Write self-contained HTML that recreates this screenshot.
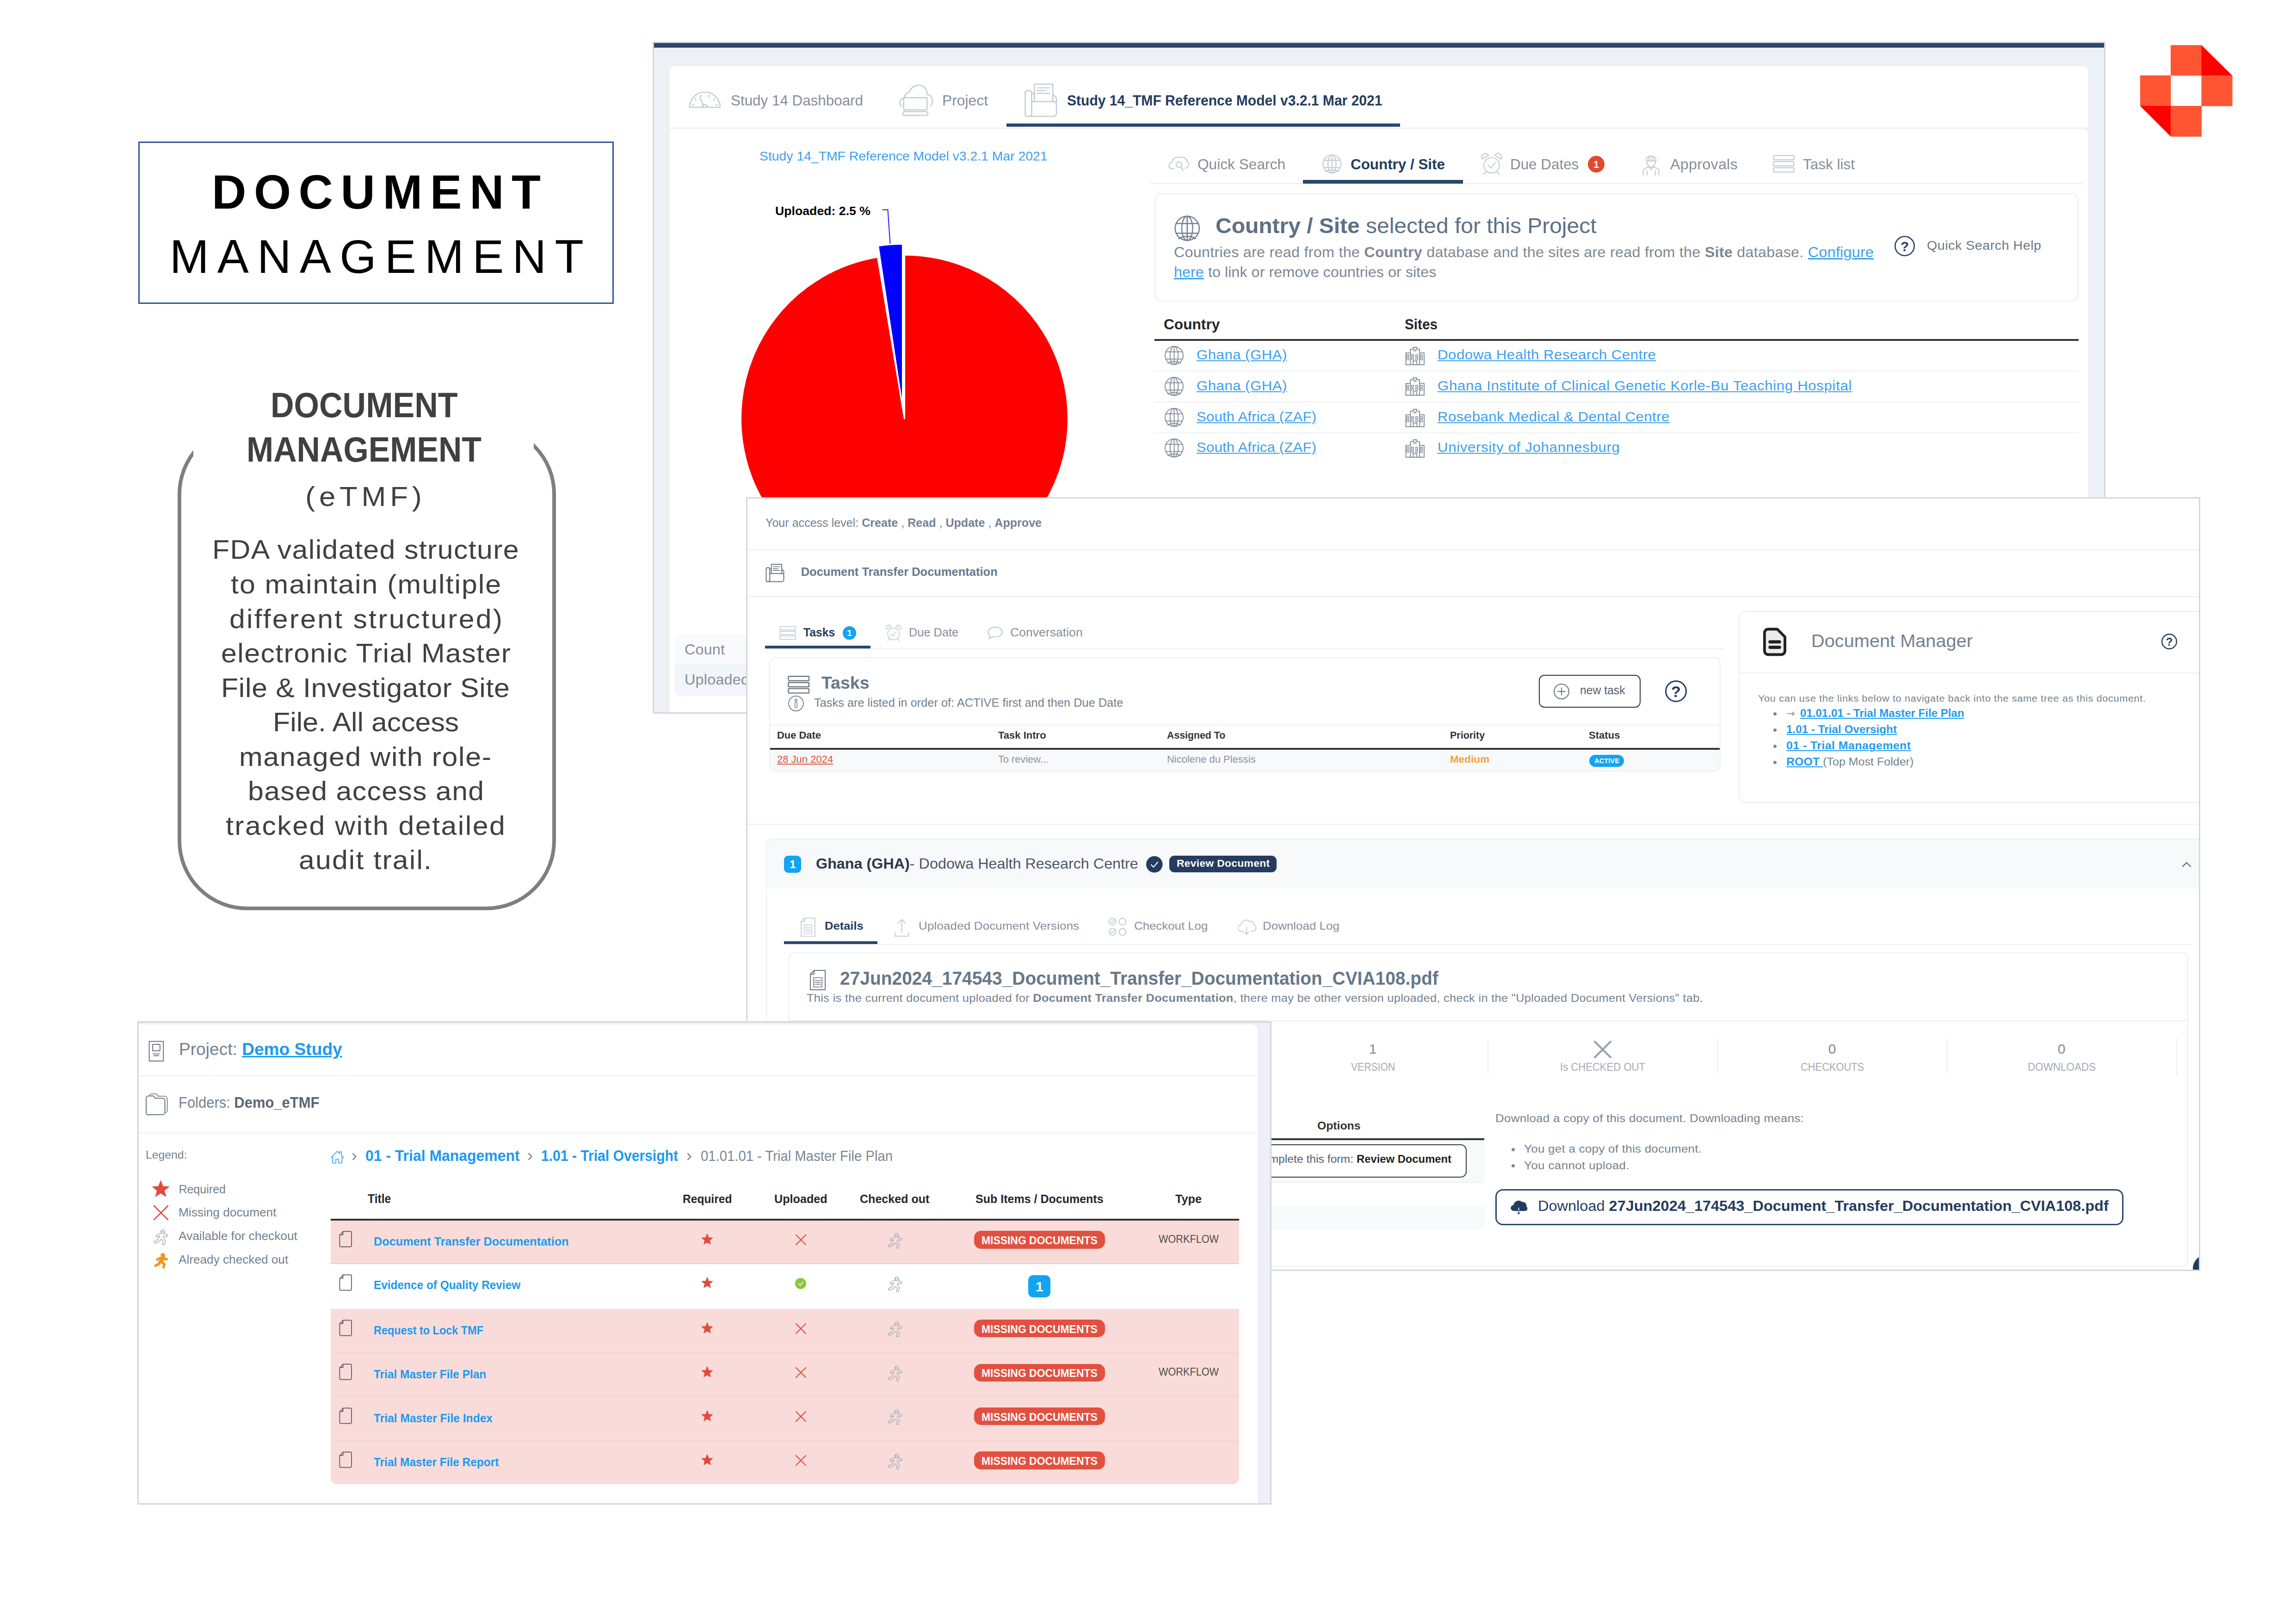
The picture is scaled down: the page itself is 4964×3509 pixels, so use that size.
<!DOCTYPE html>
<html lang="en"><head><meta charset="utf-8"><title>Document Management</title>
<style>
html,body{margin:0;padding:0;background:#fff;}
body{width:4964px;height:3509px;position:relative;overflow:hidden;font-family:"Liberation Sans",Arial,sans-serif;}
.b{position:absolute;box-sizing:border-box;}
.t{position:absolute;white-space:nowrap;transform-origin:0 0;}
svg{overflow:visible;}
</style></head><body>
<div class="b" style="left:299.0px;top:306.0px;width:1028.0px;height:351.0px;border:3px solid #2f5597;"></div>
<div class="t" style="left:458.0px;top:363.8px;font-size:103.00px;line-height:103.00px;color:#000;font-weight:700;letter-spacing:16.561px;">DOCUMENT</div>
<div class="t" style="left:366.7px;top:504.1px;font-size:102.00px;line-height:102.00px;color:#000;letter-spacing:18.218px;">MANAGEMENT</div>
<div class="b" style="left:384.0px;top:918.0px;width:818.0px;height:1050.0px;border:8px solid #7f7f7f;border-radius:150px;"></div>
<div class="b" style="left:417.5px;top:830.0px;width:736.0px;height:280.0px;background:#fff;"></div>
<div class="t" style="left:585.0px;top:838.5px;font-size:75.50px;line-height:75.50px;color:#404040;font-weight:700;transform:scaleX(0.9273);">DOCUMENT</div>
<div class="t" style="left:532.8px;top:934.7px;font-size:75.50px;line-height:75.50px;color:#404040;font-weight:700;transform:scaleX(0.9246);">MANAGEMENT</div>
<div class="t" style="left:660.0px;top:1043.6px;font-size:60.00px;line-height:60.00px;color:#404040;letter-spacing:8.224px;transform:scaleX(1.0600);">(eTMF)</div>
<div class="t" style="left:458.8px;top:1160.4px;font-size:57.40px;line-height:57.40px;color:#404040;letter-spacing:1.304px;transform:scaleX(1.0600);">FDA validated structure</div>
<div class="t" style="left:498.8px;top:1235.0px;font-size:57.40px;line-height:57.40px;color:#404040;letter-spacing:1.875px;transform:scaleX(1.0600);">to maintain (multiple</div>
<div class="t" style="left:495.8px;top:1309.5px;font-size:57.40px;line-height:57.40px;color:#404040;letter-spacing:3.007px;transform:scaleX(1.0600);">different structured)</div>
<div class="t" style="left:478.0px;top:1384.1px;font-size:57.40px;line-height:57.40px;color:#404040;letter-spacing:1.325px;transform:scaleX(1.0600);">electronic Trial Master</div>
<div class="t" style="left:478.0px;top:1458.6px;font-size:57.40px;line-height:57.40px;color:#404040;letter-spacing:0.627px;transform:scaleX(1.0600);">File &amp; Investigator Site</div>
<div class="t" style="left:589.7px;top:1533.2px;font-size:57.40px;line-height:57.40px;color:#404040;transform:scaleX(1.0598);">File. All access</div>
<div class="t" style="left:516.5px;top:1607.7px;font-size:57.40px;line-height:57.40px;color:#404040;letter-spacing:1.529px;transform:scaleX(1.0600);">managed with role-</div>
<div class="t" style="left:535.8px;top:1682.3px;font-size:57.40px;line-height:57.40px;color:#404040;letter-spacing:1.241px;transform:scaleX(1.0600);">based access and</div>
<div class="t" style="left:488.0px;top:1756.8px;font-size:57.40px;line-height:57.40px;color:#404040;letter-spacing:2.327px;transform:scaleX(1.0600);">tracked with detailed</div>
<div class="t" style="left:646.0px;top:1831.4px;font-size:57.40px;line-height:57.40px;color:#404040;letter-spacing:1.991px;transform:scaleX(1.0600);">audit trail.</div>
<svg class="b" style="left:0.0px;top:0.0px;" width="4964.0" height="400.0" viewBox="0 0 4964 400"><rect x="4693" y="97.5" width="67" height="66" fill="#ff5533"/><rect x="4627" y="163" width="66.5" height="66.5" fill="#ff5533"/><rect x="4759.5" y="163" width="67" height="66.5" fill="#ff5533"/><rect x="4693" y="229" width="67" height="66.5" fill="#ff5533"/><polygon points="4759.5,97.5 4826,163 4759.5,163" fill="#ff0000"/><polygon points="4627,229 4693,229 4693,295" fill="#ff0000"/></svg>
<div class="b" style="left:1411px;top:90px;width:3141px;height:1453px;overflow:hidden;"><div class="b" style="left:-1411px;top:-90px;width:4964px;height:3509px;">
<div class="b" style="left:1411.0px;top:90.0px;width:3141.0px;height:1453.0px;background:#edf0f5;border:3px solid #d4d6da;"></div>
<div class="b" style="left:1414.0px;top:93.0px;width:3135.0px;height:10.0px;background:#28476a;"></div>
<div class="b" style="left:1448.0px;top:143.0px;width:3066.0px;height:133.0px;background:#fff;border-radius:12px 12px 0 0;"></div>
<div class="b" style="left:1448.0px;top:278.0px;width:3066.0px;height:1262.0px;background:#fff;border-radius:0 12px 0 0;"></div>
<div class="b" style="left:1448.0px;top:275.5px;width:3066.0px;height:2.0px;background:#e8ebf0;"></div>
<svg class="b" style="left:1489.0px;top:197.0px;" width="70.0" height="38.0" viewBox="0 0 70 38"><path d="M2 35 A33 33 0 0 1 68 35 Z" fill="none" stroke="#c5cbd4" stroke-width="2.6" stroke-linecap="round" stroke-linejoin="round"/><path d="M8 30h3M14 17l2 2M26 9l1 3M44 9l-1 3M56 17l-2 2M62 30h-3M24 14l8 17" fill="none" stroke="#c5cbd4" stroke-width="2.6" stroke-linecap="round" stroke-linejoin="round"/><path d="M29 35a6 6 0 0 1 12 0" fill="none" stroke="#c5cbd4" stroke-width="2.6" stroke-linecap="round" stroke-linejoin="round"/></svg>
<div class="t" style="left:1580.0px;top:201.8px;font-size:30.50px;line-height:30.50px;color:#868e99;transform:scaleX(1.0285);">Study 14 Dashboard</div>
<svg class="b" style="left:1944.0px;top:181.0px;" width="75.0" height="70.0" viewBox="0 0 76 72"><path d="M5 50c-6-4-6-17 6-19c0-6 5-12 11-12c3-12 20-22 33-11c6 5 7 11 7 16c10 1 15 14 8 25" fill="none" stroke="#c5cbd4" stroke-width="2.6" stroke-linecap="round" stroke-linejoin="round"/><rect x="9.5" y="31" width="52" height="27" rx="2" fill="none" stroke="#c5cbd4" stroke-width="2.6" stroke-linecap="round" stroke-linejoin="round"/><rect x="8" y="62" width="55" height="8.5" rx="3" fill="none" stroke="#c5cbd4" stroke-width="2.6" stroke-linecap="round" stroke-linejoin="round"/></svg>
<div class="t" style="left:2037.0px;top:202.2px;font-size:30.50px;line-height:30.50px;color:#868e99;transform:scaleX(1.0429);">Project</div>
<svg class="b" style="left:2213.5px;top:179.5px;" width="74.5" height="73.5" viewBox="0 0 74 74"><rect x="2" y="16" width="14" height="56" rx="5" fill="none" stroke="#c5cbd4" stroke-width="2.6" stroke-linecap="round" stroke-linejoin="round"/><path d="M16 40h48a6 6 0 0 1 6 6v20a6 6 0 0 1-6 6h-54" fill="none" stroke="#c5cbd4" stroke-width="2.6" stroke-linecap="round" stroke-linejoin="round"/><path d="M22 40v-38h40v38M16 22h6M62 24l8 8v10" fill="none" stroke="#c5cbd4" stroke-width="2.6" stroke-linecap="round" stroke-linejoin="round"/><path d="M28 10h28M28 16h20M28 22h28" fill="none" stroke="#c5cbd4" stroke-width="2.08" stroke-linecap="round" stroke-linejoin="round"/></svg>
<div class="t" style="left:2306.5px;top:202.2px;font-size:30.50px;line-height:30.50px;color:#243c5e;font-weight:700;transform:scaleX(0.9854);">Study 14_TMF Reference Model v3.2.1 Mar 2021</div>
<div class="b" style="left:2175.5px;top:267.0px;width:851.5px;height:7.0px;background:#28476a;"></div>
<div class="t" style="left:1641.6px;top:324.2px;font-size:27.50px;line-height:27.50px;color:#3d9fee;transform:scaleX(1.0310);">Study 14_TMF Reference Model v3.2.1 Mar 2021</div>
<svg class="b" style="left:0.0px;top:0.0px;" width="4964.0" height="1600.0" viewBox="0 0 4964 1600"><path d="M1955.5 905.0 L1955.5 551.0 A354 354 0 1 1 1897.4 555.8 Z" fill="#fe0000" stroke="#fff" stroke-width="3" stroke-linejoin="round"/><path d="M1951.5 881.5 L1898.6 531.5 A354 354 0 0 1 1951.5 527.5 Z" fill="#0000fe" stroke="#fff" stroke-width="3" stroke-linejoin="round"/><path d="M1907.5 453.5H1919.5L1924.5 527" fill="none" stroke="#1a1aff" stroke-width="2"/></svg>
<div class="t" style="left:1675.5px;top:443.1px;font-size:26.50px;line-height:26.50px;color:#000;font-weight:700;transform:scaleX(1.0065);">Uploaded: 2.5 %</div>
<div class="b" style="left:1458.0px;top:1372.0px;width:642.0px;height:132.0px;background:#f2f5fa;border-radius:14px;overflow:hidden;"><div class="b" style="left:0;top:0;width:700px;height:64px;background:#f9fafc;"></div></div>
<div class="t" style="left:1480.0px;top:1389.2px;font-size:30.50px;line-height:30.50px;color:#868e99;letter-spacing:0.172px;transform:scaleX(1.0600);">Count</div>
<div class="t" style="left:1480.0px;top:1453.6px;font-size:30.50px;line-height:30.50px;color:#868e99;letter-spacing:0.214px;transform:scaleX(1.0600);">Uploaded</div>
<div class="b" style="left:2486.0px;top:395.5px;width:2017.0px;height:2.0px;background:#e8ebf0;"></div>
<svg class="b" style="left:2524.5px;top:335.0px;" width="46.0" height="38.0" viewBox="0 0 46 38"><path d="M14 30h-4c-9 0-11-12-1-14c1-9 10-14 18-10c5-3 14 0 14 8c6 2 5 14-3 15" fill="none" stroke="#c5cbd4" stroke-width="2.2" stroke-linecap="round" stroke-linejoin="round"/><circle cx="24" cy="21" r="6" fill="none" stroke="#c5cbd4" stroke-width="2.2" stroke-linecap="round" stroke-linejoin="round"/><path d="M28 26l5 8" fill="none" stroke="#c5cbd4" stroke-width="2.2" stroke-linecap="round" stroke-linejoin="round"/></svg>
<div class="t" style="left:2589.0px;top:340.2px;font-size:30.50px;line-height:30.50px;color:#868e99;transform:scaleX(1.0378);">Quick Search</div>
<svg class="b" style="left:2857.5px;top:333.0px;" width="43.5" height="43.0" viewBox="0 0 44 44"><circle cx="22" cy="22" r="20" fill="none" stroke="#c5cbd4" stroke-width="2.2" stroke-linecap="round" stroke-linejoin="round"/><ellipse cx="22" cy="22" rx="9" ry="20" fill="none" stroke="#c5cbd4" stroke-width="2.2" stroke-linecap="round" stroke-linejoin="round"/><path d="M22 2v40M4 14h36M4 30h36M8 39c8-5 20-5 28 0" fill="none" stroke="#c5cbd4" stroke-width="2.2" stroke-linecap="round" stroke-linejoin="round"/></svg>
<div class="t" style="left:2920.0px;top:339.9px;font-size:30.50px;line-height:30.50px;color:#243c5e;font-weight:700;transform:scaleX(1.0289);">Country / Site</div>
<div class="b" style="left:2817.0px;top:389.0px;width:345.5px;height:8.0px;background:#28476a;"></div>
<svg class="b" style="left:3201.0px;top:330.0px;" width="48.0" height="49.0" viewBox="0 0 48 50"><circle cx="24" cy="28" r="17" fill="none" stroke="#c5cbd4" stroke-width="2.2" stroke-linecap="round" stroke-linejoin="round"/><path d="M16 28l6 6l10-12M12 42l-5 6M36 42l5 6" fill="none" stroke="#c5cbd4" stroke-width="2.2" stroke-linecap="round" stroke-linejoin="round"/><path d="M3 14a8 8 0 0 1 14-8zM45 14a8 8 0 0 0-14-8z" fill="none" stroke="#c5cbd4" stroke-width="2.2" stroke-linecap="round" stroke-linejoin="round"/></svg>
<div class="t" style="left:3265.0px;top:339.9px;font-size:30.50px;line-height:30.50px;color:#868e99;transform:scaleX(1.0291);">Due Dates</div>
<svg class="b" style="left:3433.0px;top:337.0px;" width="36.0" height="36.0" viewBox="0 0 36 36"><circle cx="18" cy="18" r="18" fill="#e2492f"/><text x="18" y="25.81" text-anchor="middle" font-family="Liberation Sans,Arial,sans-serif" font-weight="700" font-size="22" fill="#fff">1</text></svg>
<svg class="b" style="left:3549.0px;top:331.5px;" width="41.5" height="47.5" viewBox="0 0 42 48"><path d="M10 16a11 11 0 0 1 22 0zM21 5v11M16 6v10M26 6v10" fill="none" stroke="#c5cbd4" stroke-width="2.2" stroke-linecap="round" stroke-linejoin="round"/><path d="M12 17c0 8 4 13 9 13s9-5 9-13M15 29l-11 6v12M27 29l11 6v12M12 37v10M30 37v10M17 30l4 5l4-5" fill="none" stroke="#c5cbd4" stroke-width="2.2" stroke-linecap="round" stroke-linejoin="round"/></svg>
<div class="t" style="left:3611.0px;top:339.9px;font-size:30.50px;line-height:30.50px;color:#868e99;letter-spacing:0.228px;transform:scaleX(1.0600);">Approvals</div>
<svg class="b" style="left:3833.0px;top:334.0px;" width="47.0" height="40.5" viewBox="0 0 48 40"><rect x="1.5" y="1.5" width="45" height="9.5" rx="1" fill="none" stroke="#c5cbd4" stroke-width="2.2" stroke-linecap="round" stroke-linejoin="round"/><rect x="1.5" y="15" width="45" height="9.5" rx="1" fill="none" stroke="#c5cbd4" stroke-width="2.2" stroke-linecap="round" stroke-linejoin="round"/><rect x="1.5" y="28.5" width="45" height="9.5" rx="1" fill="none" stroke="#c5cbd4" stroke-width="2.2" stroke-linecap="round" stroke-linejoin="round"/></svg>
<div class="t" style="left:3898.0px;top:339.9px;font-size:30.50px;line-height:30.50px;color:#868e99;transform:scaleX(1.0326);">Task list</div>
<div class="b" style="left:2496.0px;top:418.0px;width:1998.0px;height:234.0px;background:#fff;border:2px solid #eceef2;border-radius:16px;"></div>
<svg class="b" style="left:2537.5px;top:464.5px;" width="57.5" height="57.5" viewBox="0 0 44 44"><circle cx="22" cy="22" r="20" fill="none" stroke="#6f7f8f" stroke-width="1.9" stroke-linecap="round" stroke-linejoin="round"/><ellipse cx="22" cy="22" rx="9" ry="20" fill="none" stroke="#6f7f8f" stroke-width="1.9" stroke-linecap="round" stroke-linejoin="round"/><path d="M22 2v40M4 14h36M4 30h36M8 39c8-5 20-5 28 0" fill="none" stroke="#6f7f8f" stroke-width="1.9" stroke-linecap="round" stroke-linejoin="round"/></svg>
<div class="t" style="left:2627.5px;top:465.4px;font-size:46.50px;line-height:46.50px;color:#5d7083;transform:scaleX(1.0313);"><span style="font-weight:700">Country / Site</span> selected for this Project</div>
<div class="t" style="left:2537.5px;top:529.9px;font-size:30.50px;line-height:30.50px;color:#7b8794;letter-spacing:0.236px;transform:scaleX(1.0600);">Countries are read from the <span style="font-weight:700">Country</span> database and the sites are read from the <span style="font-weight:700">Site</span> database. <span style="color:#3d9fee;text-decoration:underline">Configure</span></div>
<div class="t" style="left:2537.5px;top:572.8px;font-size:30.50px;line-height:30.50px;color:#7b8794;letter-spacing:0.035px;transform:scaleX(1.0600);"><span style="color:#3d9fee;text-decoration:underline">here</span> to link or remove countries or sites</div>
<svg class="b" style="left:4094.0px;top:508.0px;" width="48.0" height="48.0" viewBox="0 0 48 48"><circle cx="24" cy="24" r="20.7" fill="none" stroke="#243c5e" stroke-width="2.6" stroke-linecap="round" stroke-linejoin="round"/><text x="24" y="34.692" text-anchor="middle" font-family="Liberation Sans,Arial,sans-serif" font-weight="700" font-size="29.7" fill="#243c5e">?</text></svg>
<div class="t" style="left:4166.0px;top:518.1px;font-size:27.00px;line-height:27.00px;color:#6c7785;letter-spacing:0.495px;transform:scaleX(1.0600);">Quick Search Help</div>
<div class="t" style="left:2515.5px;top:686.2px;font-size:30.50px;line-height:30.50px;color:#262626;font-weight:700;transform:scaleX(1.0376);">Country</div>
<div class="t" style="left:3037.0px;top:686.2px;font-size:30.50px;line-height:30.50px;color:#262626;font-weight:700;transform:scaleX(0.9739);">Sites</div>
<div class="b" style="left:2496.0px;top:733.0px;width:1998.0px;height:4.0px;background:#333;"></div>
<svg class="b" style="left:2516.5px;top:747.3px;" width="43.0" height="43.0" viewBox="0 0 44 44"><circle cx="22" cy="22" r="20" fill="none" stroke="#7d8793" stroke-width="1.8" stroke-linecap="round" stroke-linejoin="round"/><ellipse cx="22" cy="22" rx="9" ry="20" fill="none" stroke="#7d8793" stroke-width="1.8" stroke-linecap="round" stroke-linejoin="round"/><path d="M22 2v40M4 14h36M4 30h36M8 39c8-5 20-5 28 0" fill="none" stroke="#7d8793" stroke-width="1.8" stroke-linecap="round" stroke-linejoin="round"/></svg>
<div class="t" style="left:2586.6px;top:752.3px;font-size:29.50px;line-height:29.50px;color:#3d9fee;text-decoration:underline;letter-spacing:0.400px;transform:scaleX(1.0600);">Ghana (GHA)</div>
<svg class="b" style="left:3036.5px;top:749.8px;" width="44.5" height="39.5" viewBox="0 0 44 40"><path d="M2 39v-26h10v-8h6v-4h8v4h6v8h10v26z M12 13v26 M32 13v26 M18 39v-8h8v8" fill="none" stroke="#7d8793" stroke-width="1.8" stroke-linecap="round" stroke-linejoin="round"/><rect x="4" y="17" width="4.5" height="4.5" fill="none" stroke="#7d8793" stroke-width="1.44" stroke-linecap="round" stroke-linejoin="round"/><rect x="4" y="24" width="4.5" height="4.5" fill="none" stroke="#7d8793" stroke-width="1.44" stroke-linecap="round" stroke-linejoin="round"/><rect x="14.5" y="17" width="4.5" height="4.5" fill="none" stroke="#7d8793" stroke-width="1.44" stroke-linecap="round" stroke-linejoin="round"/><rect x="14.5" y="24" width="4.5" height="4.5" fill="none" stroke="#7d8793" stroke-width="1.44" stroke-linecap="round" stroke-linejoin="round"/><rect x="23.5" y="17" width="4.5" height="4.5" fill="none" stroke="#7d8793" stroke-width="1.44" stroke-linecap="round" stroke-linejoin="round"/><rect x="23.5" y="24" width="4.5" height="4.5" fill="none" stroke="#7d8793" stroke-width="1.44" stroke-linecap="round" stroke-linejoin="round"/><rect x="34" y="17" width="4.5" height="4.5" fill="none" stroke="#7d8793" stroke-width="1.44" stroke-linecap="round" stroke-linejoin="round"/><rect x="34" y="24" width="4.5" height="4.5" fill="none" stroke="#7d8793" stroke-width="1.44" stroke-linecap="round" stroke-linejoin="round"/><path d="M20 5v5M24 5v5M20 7.5h4" fill="none" stroke="#7d8793" stroke-width="1.44" stroke-linecap="round" stroke-linejoin="round"/></svg>
<div class="t" style="left:3107.6px;top:752.3px;font-size:29.50px;line-height:29.50px;color:#3d9fee;text-decoration:underline;letter-spacing:0.442px;transform:scaleX(1.0600);">Dodowa Health Research Centre</div>
<div class="b" style="left:2496.0px;top:801.4px;width:1998.0px;height:2.0px;background:#eef0f3;"></div>
<svg class="b" style="left:2516.5px;top:813.5px;" width="43.0" height="43.0" viewBox="0 0 44 44"><circle cx="22" cy="22" r="20" fill="none" stroke="#7d8793" stroke-width="1.8" stroke-linecap="round" stroke-linejoin="round"/><ellipse cx="22" cy="22" rx="9" ry="20" fill="none" stroke="#7d8793" stroke-width="1.8" stroke-linecap="round" stroke-linejoin="round"/><path d="M22 2v40M4 14h36M4 30h36M8 39c8-5 20-5 28 0" fill="none" stroke="#7d8793" stroke-width="1.8" stroke-linecap="round" stroke-linejoin="round"/></svg>
<div class="t" style="left:2586.6px;top:818.5px;font-size:29.50px;line-height:29.50px;color:#3d9fee;text-decoration:underline;letter-spacing:0.400px;transform:scaleX(1.0600);">Ghana (GHA)</div>
<svg class="b" style="left:3036.5px;top:816.0px;" width="44.5" height="39.5" viewBox="0 0 44 40"><path d="M2 39v-26h10v-8h6v-4h8v4h6v8h10v26z M12 13v26 M32 13v26 M18 39v-8h8v8" fill="none" stroke="#7d8793" stroke-width="1.8" stroke-linecap="round" stroke-linejoin="round"/><rect x="4" y="17" width="4.5" height="4.5" fill="none" stroke="#7d8793" stroke-width="1.44" stroke-linecap="round" stroke-linejoin="round"/><rect x="4" y="24" width="4.5" height="4.5" fill="none" stroke="#7d8793" stroke-width="1.44" stroke-linecap="round" stroke-linejoin="round"/><rect x="14.5" y="17" width="4.5" height="4.5" fill="none" stroke="#7d8793" stroke-width="1.44" stroke-linecap="round" stroke-linejoin="round"/><rect x="14.5" y="24" width="4.5" height="4.5" fill="none" stroke="#7d8793" stroke-width="1.44" stroke-linecap="round" stroke-linejoin="round"/><rect x="23.5" y="17" width="4.5" height="4.5" fill="none" stroke="#7d8793" stroke-width="1.44" stroke-linecap="round" stroke-linejoin="round"/><rect x="23.5" y="24" width="4.5" height="4.5" fill="none" stroke="#7d8793" stroke-width="1.44" stroke-linecap="round" stroke-linejoin="round"/><rect x="34" y="17" width="4.5" height="4.5" fill="none" stroke="#7d8793" stroke-width="1.44" stroke-linecap="round" stroke-linejoin="round"/><rect x="34" y="24" width="4.5" height="4.5" fill="none" stroke="#7d8793" stroke-width="1.44" stroke-linecap="round" stroke-linejoin="round"/><path d="M20 5v5M24 5v5M20 7.5h4" fill="none" stroke="#7d8793" stroke-width="1.44" stroke-linecap="round" stroke-linejoin="round"/></svg>
<div class="t" style="left:3107.6px;top:818.5px;font-size:29.50px;line-height:29.50px;color:#3d9fee;text-decoration:underline;letter-spacing:0.577px;transform:scaleX(1.0600);">Ghana Institute of Clinical Genetic Korle-Bu Teaching Hospital</div>
<div class="b" style="left:2496.0px;top:868.2px;width:1998.0px;height:2.0px;background:#eef0f3;"></div>
<svg class="b" style="left:2516.5px;top:881.0px;" width="43.0" height="43.0" viewBox="0 0 44 44"><circle cx="22" cy="22" r="20" fill="none" stroke="#7d8793" stroke-width="1.8" stroke-linecap="round" stroke-linejoin="round"/><ellipse cx="22" cy="22" rx="9" ry="20" fill="none" stroke="#7d8793" stroke-width="1.8" stroke-linecap="round" stroke-linejoin="round"/><path d="M22 2v40M4 14h36M4 30h36M8 39c8-5 20-5 28 0" fill="none" stroke="#7d8793" stroke-width="1.8" stroke-linecap="round" stroke-linejoin="round"/></svg>
<div class="t" style="left:2586.6px;top:886.0px;font-size:29.50px;line-height:29.50px;color:#3d9fee;text-decoration:underline;letter-spacing:0.112px;transform:scaleX(1.0600);">South Africa (ZAF)</div>
<svg class="b" style="left:3036.5px;top:883.5px;" width="44.5" height="39.5" viewBox="0 0 44 40"><path d="M2 39v-26h10v-8h6v-4h8v4h6v8h10v26z M12 13v26 M32 13v26 M18 39v-8h8v8" fill="none" stroke="#7d8793" stroke-width="1.8" stroke-linecap="round" stroke-linejoin="round"/><rect x="4" y="17" width="4.5" height="4.5" fill="none" stroke="#7d8793" stroke-width="1.44" stroke-linecap="round" stroke-linejoin="round"/><rect x="4" y="24" width="4.5" height="4.5" fill="none" stroke="#7d8793" stroke-width="1.44" stroke-linecap="round" stroke-linejoin="round"/><rect x="14.5" y="17" width="4.5" height="4.5" fill="none" stroke="#7d8793" stroke-width="1.44" stroke-linecap="round" stroke-linejoin="round"/><rect x="14.5" y="24" width="4.5" height="4.5" fill="none" stroke="#7d8793" stroke-width="1.44" stroke-linecap="round" stroke-linejoin="round"/><rect x="23.5" y="17" width="4.5" height="4.5" fill="none" stroke="#7d8793" stroke-width="1.44" stroke-linecap="round" stroke-linejoin="round"/><rect x="23.5" y="24" width="4.5" height="4.5" fill="none" stroke="#7d8793" stroke-width="1.44" stroke-linecap="round" stroke-linejoin="round"/><rect x="34" y="17" width="4.5" height="4.5" fill="none" stroke="#7d8793" stroke-width="1.44" stroke-linecap="round" stroke-linejoin="round"/><rect x="34" y="24" width="4.5" height="4.5" fill="none" stroke="#7d8793" stroke-width="1.44" stroke-linecap="round" stroke-linejoin="round"/><path d="M20 5v5M24 5v5M20 7.5h4" fill="none" stroke="#7d8793" stroke-width="1.44" stroke-linecap="round" stroke-linejoin="round"/></svg>
<div class="t" style="left:3107.6px;top:886.0px;font-size:29.50px;line-height:29.50px;color:#3d9fee;text-decoration:underline;letter-spacing:0.395px;transform:scaleX(1.0600);">Rosebank Medical &amp; Dental Centre</div>
<div class="b" style="left:2496.0px;top:935.0px;width:1998.0px;height:2.0px;background:#eef0f3;"></div>
<svg class="b" style="left:2516.5px;top:947.0px;" width="43.0" height="43.0" viewBox="0 0 44 44"><circle cx="22" cy="22" r="20" fill="none" stroke="#7d8793" stroke-width="1.8" stroke-linecap="round" stroke-linejoin="round"/><ellipse cx="22" cy="22" rx="9" ry="20" fill="none" stroke="#7d8793" stroke-width="1.8" stroke-linecap="round" stroke-linejoin="round"/><path d="M22 2v40M4 14h36M4 30h36M8 39c8-5 20-5 28 0" fill="none" stroke="#7d8793" stroke-width="1.8" stroke-linecap="round" stroke-linejoin="round"/></svg>
<div class="t" style="left:2586.6px;top:952.0px;font-size:29.50px;line-height:29.50px;color:#3d9fee;text-decoration:underline;letter-spacing:0.112px;transform:scaleX(1.0600);">South Africa (ZAF)</div>
<svg class="b" style="left:3036.5px;top:949.5px;" width="44.5" height="39.5" viewBox="0 0 44 40"><path d="M2 39v-26h10v-8h6v-4h8v4h6v8h10v26z M12 13v26 M32 13v26 M18 39v-8h8v8" fill="none" stroke="#7d8793" stroke-width="1.8" stroke-linecap="round" stroke-linejoin="round"/><rect x="4" y="17" width="4.5" height="4.5" fill="none" stroke="#7d8793" stroke-width="1.44" stroke-linecap="round" stroke-linejoin="round"/><rect x="4" y="24" width="4.5" height="4.5" fill="none" stroke="#7d8793" stroke-width="1.44" stroke-linecap="round" stroke-linejoin="round"/><rect x="14.5" y="17" width="4.5" height="4.5" fill="none" stroke="#7d8793" stroke-width="1.44" stroke-linecap="round" stroke-linejoin="round"/><rect x="14.5" y="24" width="4.5" height="4.5" fill="none" stroke="#7d8793" stroke-width="1.44" stroke-linecap="round" stroke-linejoin="round"/><rect x="23.5" y="17" width="4.5" height="4.5" fill="none" stroke="#7d8793" stroke-width="1.44" stroke-linecap="round" stroke-linejoin="round"/><rect x="23.5" y="24" width="4.5" height="4.5" fill="none" stroke="#7d8793" stroke-width="1.44" stroke-linecap="round" stroke-linejoin="round"/><rect x="34" y="17" width="4.5" height="4.5" fill="none" stroke="#7d8793" stroke-width="1.44" stroke-linecap="round" stroke-linejoin="round"/><rect x="34" y="24" width="4.5" height="4.5" fill="none" stroke="#7d8793" stroke-width="1.44" stroke-linecap="round" stroke-linejoin="round"/><path d="M20 5v5M24 5v5M20 7.5h4" fill="none" stroke="#7d8793" stroke-width="1.44" stroke-linecap="round" stroke-linejoin="round"/></svg>
<div class="t" style="left:3107.6px;top:952.0px;font-size:29.50px;line-height:29.50px;color:#3d9fee;text-decoration:underline;letter-spacing:0.569px;transform:scaleX(1.0600);">University of Johannesburg</div>
</div></div>
<div class="b" style="left:1613px;top:1075px;width:3144px;height:1673px;overflow:hidden;"><div class="b" style="left:-1613px;top:-1075px;width:4964px;height:3509px;">
<div class="b" style="left:1613.0px;top:1075.0px;width:3144.0px;height:1673.0px;background:#fff;"></div>
<div class="t" style="left:1655.0px;top:1117.8px;font-size:25.50px;line-height:25.50px;color:#74818e;transform:scaleX(0.9835);">Your access level: <span style="font-weight:700">Create</span> , <span style="font-weight:700">Read</span> , <span style="font-weight:700">Update</span> , <span style="font-weight:700">Approve</span></div>
<div class="b" style="left:1616.0px;top:1187.6px;width:3138.0px;height:2.0px;background:#eceef2;"></div>
<svg class="b" style="left:1655.0px;top:1218.0px;" width="41.0" height="42.0" viewBox="0 0 42 42"><rect x="1.5" y="9" width="8" height="31" rx="3" fill="none" stroke="#6b7480" stroke-width="2" stroke-linecap="round" stroke-linejoin="round"/><path d="M9.5 22h27a4 4 0 0 1 4 4v10a4 4 0 0 1-4 4h-31" fill="none" stroke="#6b7480" stroke-width="2" stroke-linecap="round" stroke-linejoin="round"/><path d="M13 22v-20.5h23v20.5M9.5 12h3.5M36 12l4.5 4.500v7" fill="none" stroke="#6b7480" stroke-width="2" stroke-linecap="round" stroke-linejoin="round"/><path d="M17 7h15M17 11h10M17 15h15" fill="none" stroke="#6b7480" stroke-width="1.6" stroke-linecap="round" stroke-linejoin="round"/></svg>
<div class="t" style="left:1731.7px;top:1224.4px;font-size:25.50px;line-height:25.50px;color:#66788a;font-weight:700;">Document Transfer Documentation</div>
<div class="b" style="left:1616.0px;top:1289.0px;width:3138.0px;height:2.0px;background:#eceef2;"></div>
<svg class="b" style="left:1685.0px;top:1352.5px;" width="36.5" height="31.5" viewBox="0 0 48 40"><rect x="1.5" y="1.5" width="45" height="9.5" rx="1" fill="none" stroke="#c5cbd4" stroke-width="2.2" stroke-linecap="round" stroke-linejoin="round"/><rect x="1.5" y="15" width="45" height="9.5" rx="1" fill="none" stroke="#c5cbd4" stroke-width="2.2" stroke-linecap="round" stroke-linejoin="round"/><rect x="1.5" y="28.5" width="45" height="9.5" rx="1" fill="none" stroke="#c5cbd4" stroke-width="2.2" stroke-linecap="round" stroke-linejoin="round"/></svg>
<div class="t" style="left:1737.0px;top:1354.2px;font-size:26.00px;line-height:26.00px;color:#243c5e;font-weight:700;transform:scaleX(0.9527);">Tasks</div>
<svg class="b" style="left:1821.6px;top:1353.7px;" width="29.2" height="29.2" viewBox="0 0 29.2 29.2"><circle cx="14.6" cy="14.6" r="14.6" fill="#12a4f2"/><text x="14.6" y="21.345" text-anchor="middle" font-family="Liberation Sans,Arial,sans-serif" font-weight="700" font-size="19" fill="#fff">1</text></svg>
<div class="b" style="left:1654.4px;top:1396.0px;width:227.8px;height:6.5px;background:#28476a;"></div>
<svg class="b" style="left:1912.5px;top:1350.0px;" width="37.5" height="37.0" viewBox="0 0 48 50"><circle cx="24" cy="28" r="17" fill="none" stroke="#c5cbd4" stroke-width="2.2" stroke-linecap="round" stroke-linejoin="round"/><path d="M16 28l6 6l10-12M12 42l-5 6M36 42l5 6" fill="none" stroke="#c5cbd4" stroke-width="2.2" stroke-linecap="round" stroke-linejoin="round"/><path d="M3 14a8 8 0 0 1 14-8zM45 14a8 8 0 0 0-14-8z" fill="none" stroke="#c5cbd4" stroke-width="2.2" stroke-linecap="round" stroke-linejoin="round"/></svg>
<div class="t" style="left:1964.8px;top:1354.2px;font-size:26.00px;line-height:26.00px;color:#868e99;transform:scaleX(0.9760);">Due Date</div>
<svg class="b" style="left:2134.0px;top:1354.0px;" width="35.0" height="29.0" viewBox="0 0 36 30"><path d="M18 2c9 0 16 5 16 11s-7 11-16 11c-2 0-4 0-6-1l-8 5l3-7c-3-2-5-5-5-8c0-6 7-11 16-11z" fill="none" stroke="#c5cbd4" stroke-width="2.2" stroke-linecap="round" stroke-linejoin="round"/></svg>
<div class="t" style="left:2184.3px;top:1354.2px;font-size:26.00px;line-height:26.00px;color:#868e99;transform:scaleX(1.0229);">Conversation</div>
<div class="b" style="left:1654.4px;top:1402.3px;width:2073.2px;height:2.0px;background:#eceef2;"></div>
<div class="b" style="left:1662.5px;top:1420.5px;width:2057.0px;height:247.5px;background:#fff;border:2px solid #eceef2;border-radius:14px;overflow:hidden;"><div class="b" style="left:0;top:198px;width:2100px;height:60px;background:#f8f9fb;"></div></div>
<svg class="b" style="left:1703.0px;top:1459.5px;" width="47.5" height="41.0" viewBox="0 0 48 40"><rect x="1.5" y="1.5" width="45" height="9.5" rx="1" fill="none" stroke="#6b7480" stroke-width="2.4" stroke-linecap="round" stroke-linejoin="round"/><rect x="1.5" y="15" width="45" height="9.5" rx="1" fill="none" stroke="#6b7480" stroke-width="2.4" stroke-linecap="round" stroke-linejoin="round"/><rect x="1.5" y="28.5" width="45" height="9.5" rx="1" fill="none" stroke="#6b7480" stroke-width="2.4" stroke-linecap="round" stroke-linejoin="round"/></svg>
<div class="t" style="left:1776.0px;top:1457.9px;font-size:37.50px;line-height:37.50px;color:#66788a;font-weight:700;">Tasks</div>
<svg class="b" style="left:1702.7px;top:1503.0px;" width="36.0" height="36.0" viewBox="0 0 36 36"><circle cx="18" cy="18" r="16" fill="none" stroke="#7d8793" stroke-width="2" stroke-linecap="round" stroke-linejoin="round"/><circle cx="18" cy="10.86" r="2.21" fill="none" stroke="#7d8793" stroke-width="1.6" stroke-linecap="round" stroke-linejoin="round"/><rect x="15.62" y="14.94" width="4.76" height="12.24" rx="1.5" fill="none" stroke="#7d8793" stroke-width="1.6" stroke-linecap="round" stroke-linejoin="round"/></svg>
<div class="t" style="left:1760.4px;top:1507.2px;font-size:25.50px;line-height:25.50px;color:#74818e;transform:scaleX(0.9949);">Tasks are listed in order of: ACTIVE first and then Due Date</div>
<div class="b" style="left:3327.0px;top:1458.5px;width:219.5px;height:71.5px;background:#fff;border:2.5px solid #333;border-radius:12px;"></div>
<svg class="b" style="left:3358.3px;top:1476.5px;" width="36.0" height="36.0" viewBox="0 0 36 36"><circle cx="18" cy="18" r="16" fill="none" stroke="#6b7480" stroke-width="2" stroke-linecap="round" stroke-linejoin="round"/><path d="M10.35 18h15.3M18 10.35v15.3" fill="none" stroke="#6b7480" stroke-width="2" stroke-linecap="round" stroke-linejoin="round"/></svg>
<div class="t" style="left:3416.0px;top:1479.8px;font-size:25.00px;line-height:25.00px;color:#555f6b;transform:scaleX(0.9883);">new task</div>
<svg class="b" style="left:3597.5px;top:1469.0px;" width="51.0" height="51.0" viewBox="0 0 51 51"><circle cx="25.5" cy="25.5" r="22" fill="none" stroke="#243c5e" stroke-width="3" stroke-linecap="round" stroke-linejoin="round"/><text x="25.5" y="37.74" text-anchor="middle" font-family="Liberation Sans,Arial,sans-serif" font-weight="700" font-size="34" fill="#243c5e">?</text></svg>
<div class="b" style="left:1664.5px;top:1567.0px;width:2053.0px;height:2.0px;background:#eceef2;"></div>
<div class="t" style="left:1680.0px;top:1580.3px;font-size:21.30px;line-height:21.30px;color:#333;font-weight:700;transform:scaleX(1.0290);">Due Date</div>
<div class="t" style="left:2158.0px;top:1580.3px;font-size:21.30px;line-height:21.30px;color:#333;font-weight:700;transform:scaleX(1.0338);">Task Intro</div>
<div class="t" style="left:2523.0px;top:1580.3px;font-size:21.30px;line-height:21.30px;color:#333;font-weight:700;">Assigned To</div>
<div class="t" style="left:3134.8px;top:1580.3px;font-size:21.30px;line-height:21.30px;color:#333;font-weight:700;transform:scaleX(1.0084);">Priority</div>
<div class="t" style="left:3435.0px;top:1580.3px;font-size:21.30px;line-height:21.30px;color:#333;font-weight:700;transform:scaleX(1.0369);">Status</div>
<div class="b" style="left:1664.5px;top:1617.0px;width:2053.0px;height:4.3px;background:#333;"></div>
<div class="t" style="left:1680.0px;top:1631.5px;font-size:21.30px;line-height:21.30px;color:#e0523a;text-decoration:underline;transform:scaleX(1.0336);">28 Jun 2024</div>
<div class="t" style="left:2158.0px;top:1631.5px;font-size:21.30px;line-height:21.30px;color:#8a94a0;transform:scaleX(1.0212);">To review...</div>
<div class="t" style="left:2523.0px;top:1631.5px;font-size:21.30px;line-height:21.30px;color:#8a94a0;transform:scaleX(1.0313);">Nicolene du Plessis</div>
<div class="t" style="left:3134.8px;top:1631.5px;font-size:21.30px;line-height:21.30px;color:#f7a035;font-weight:700;transform:scaleX(1.0588);">Medium</div>
<div class="b" style="left:3436.0px;top:1631.7px;width:75.0px;height:25.9px;background:#12a4f2;border-radius:13px;"></div>
<div class="t" style="left:3446.5px;top:1638.1px;font-size:14.00px;line-height:14.00px;color:#fff;font-weight:700;transform:scaleX(1.0518);">ACTIVE</div>
<div class="b" style="left:3759.0px;top:1320.5px;width:1141.0px;height:415.5px;background:#fff;border:2px solid #eceef2;border-radius:16px;"></div>
<svg class="b" style="left:3811.5px;top:1357.0px;" width="51.0" height="61.5" viewBox="0 0 52 62"><path d="M11 3h20l17 17v31a8 8 0 0 1-8 8h-29a8 8 0 0 1-8-8v-40a8 8 0 0 1 8-8z" fill="#ebebeb" stroke="#222" stroke-width="6" stroke-linejoin="round"/><path d="M15 31h21M15 43h21" fill="none" stroke="#222" stroke-width="7" stroke-linecap="round"/></svg>
<div class="t" style="left:3915.7px;top:1366.7px;font-size:38.00px;line-height:38.00px;color:#74818e;transform:scaleX(1.0458);">Document Manager</div>
<svg class="b" style="left:4670.5px;top:1368.0px;" width="38.0" height="38.0" viewBox="0 0 38 38"><circle cx="19" cy="19" r="15.8" fill="none" stroke="#243c5e" stroke-width="2.4" stroke-linecap="round" stroke-linejoin="round"/><text x="19" y="27.64" text-anchor="middle" font-family="Liberation Sans,Arial,sans-serif" font-weight="700" font-size="24" fill="#243c5e">?</text></svg>
<div class="b" style="left:3761.0px;top:1454.3px;width:1139.0px;height:2.0px;background:#eceef2;"></div>
<div class="t" style="left:3800.5px;top:1499.6px;font-size:20.50px;line-height:20.50px;color:#74818e;letter-spacing:0.590px;transform:scaleX(1.0600);">You can use the links below to navigate back into the same tree as this document.</div>
<div class="b" style="left:3833.5px;top:1539.6px;width:7.0px;height:7.0px;background:#7d8793;border-radius:4px;"></div>
<div class="b" style="left:3833.5px;top:1574.9px;width:7.0px;height:7.0px;background:#7d8793;border-radius:4px;"></div>
<div class="b" style="left:3833.5px;top:1610.2px;width:7.0px;height:7.0px;background:#7d8793;border-radius:4px;"></div>
<div class="b" style="left:3833.5px;top:1644.7px;width:7.0px;height:7.0px;background:#7d8793;border-radius:4px;"></div>
<div class="t" style="left:3862.4px;top:1532.0px;font-size:22.00px;line-height:22.00px;color:#8a94a0;font-family:'DejaVu Sans',sans-serif;">→</div>
<div class="t" style="left:3892.0px;top:1530.7px;font-size:23.50px;line-height:23.50px;color:#1f9bf0;font-weight:700;text-decoration:underline;transform:scaleX(1.0244);">01.01.01 - Trial Master File Plan</div>
<div class="t" style="left:3862.4px;top:1566.0px;font-size:23.50px;line-height:23.50px;color:#1f9bf0;font-weight:700;text-decoration:underline;transform:scaleX(1.0338);">1.01 - Trial Oversight</div>
<div class="t" style="left:3862.4px;top:1601.3px;font-size:23.50px;line-height:23.50px;color:#1f9bf0;font-weight:700;text-decoration:underline;letter-spacing:0.413px;transform:scaleX(1.0600);">01 - Trial Management</div>
<div class="t" style="left:3862.4px;top:1635.8px;font-size:23.50px;line-height:23.50px;color:#74818e;letter-spacing:0.051px;transform:scaleX(1.0600);"><span style="font-weight:700;color:#1f9bf0;text-decoration:underline">ROOT </span>(Top Most Folder)</div>
<div class="b" style="left:1616.0px;top:1780.5px;width:3138.0px;height:2.0px;background:#eceef2;"></div>
<div class="b" style="left:1655.5px;top:1812.5px;width:3244.5px;height:1087.5px;background:#fff;border:2px solid #eef0f3;border-radius:14px 0 0 0;"></div>
<div class="b" style="left:1657.5px;top:1814.5px;width:3242.5px;height:106.5px;background:#f8f9fb;border-radius:12px 0 0 0;"></div>
<div class="b" style="left:1695.4px;top:1849.6px;width:37.0px;height:37.1px;background:#12a4f2;border-radius:9px;"></div>
<div class="t" style="left:1707.3px;top:1856.7px;font-size:24.00px;line-height:24.00px;color:#fff;font-weight:700;">1</div>
<div class="t" style="left:1763.5px;top:1850.7px;font-size:32.00px;line-height:32.00px;color:#4a5568;transform:scaleX(1.0098);"><span style="font-weight:700;color:#2d3748">Ghana (GHA)</span>- Dodowa Health Research Centre</div>
<svg class="b" style="left:2478.0px;top:1851.2px;" width="35.6" height="35.6" viewBox="0 0 35.6 35.6"><circle cx="17.8" cy="17.8" r="17.8" fill="#243c5e"/><path d="M11.036 18.69l4.984 4.984l8.9 -10.68" fill="none" stroke="#fff" stroke-width="2.136" stroke-linecap="round" stroke-linejoin="round"/></svg>
<div class="b" style="left:2528.4px;top:1850.4px;width:231.6px;height:35.6px;background:#243c5e;border-radius:11px;"></div>
<div class="t" style="left:2543.7px;top:1857.4px;font-size:21.50px;line-height:21.50px;color:#fff;font-weight:700;letter-spacing:0.317px;transform:scaleX(1.0600);">Review Document</div>
<svg class="b" style="left:4717.5px;top:1864.2px;" width="19.0" height="10.5" viewBox="0 0 19 10.5"><path d="M1 9.5L9.5 1L18 9.5" fill="none" stroke="#5d6b7a" stroke-width="2.4" stroke-linecap="round" stroke-linejoin="round"/></svg>
<svg class="b" style="left:1730.0px;top:1983.0px;" width="34.0" height="43.0" viewBox="0 0 36 46"><path d="M10 2h24v42h-32v-34z" fill="none" stroke="#c5cbd4" stroke-width="2" stroke-linecap="round" stroke-linejoin="round"/><path d="M10 2v8h-8" fill="none" stroke="#c5cbd4" stroke-width="2" stroke-linecap="round" stroke-linejoin="round"/><rect x="9" y="18" width="18" height="20" fill="none" stroke="#c5cbd4" stroke-width="1.6" stroke-linecap="round" stroke-linejoin="round"/><path d="M12 24h12M12 28h12M12 32h12" fill="none" stroke="#c5cbd4" stroke-width="1.6" stroke-linecap="round" stroke-linejoin="round"/></svg>
<div class="t" style="left:1782.8px;top:1990.3px;font-size:24.50px;line-height:24.50px;color:#243c5e;font-weight:700;transform:scaleX(1.0418);">Details</div>
<div class="b" style="left:1695.4px;top:2034.7px;width:202.1px;height:6.3px;background:#28476a;"></div>
<svg class="b" style="left:1933.0px;top:1985.0px;" width="33.5" height="41.0" viewBox="0 0 34 42"><path d="M17 32v-29M9 11l8-8l8 8M2 32v8h30v-8" fill="none" stroke="#c5cbd4" stroke-width="2" stroke-linecap="round" stroke-linejoin="round"/></svg>
<div class="t" style="left:1985.7px;top:1990.3px;font-size:24.50px;line-height:24.50px;color:#868e99;letter-spacing:0.140px;transform:scaleX(1.0600);">Uploaded Document Versions</div>
<svg class="b" style="left:2396.0px;top:1984.4px;" width="42.0" height="41.6" viewBox="0 0 42 42"><circle cx="9" cy="9" r="7.5" fill="none" stroke="#c5cbd4" stroke-width="2" stroke-linecap="round" stroke-linejoin="round"/><path d="M5 9l3 3l7-9" fill="none" stroke="#c5cbd4" stroke-width="2" stroke-linecap="round" stroke-linejoin="round"/><circle cx="31" cy="9" r="7.5" fill="none" stroke="#c5cbd4" stroke-width="2" stroke-linecap="round" stroke-linejoin="round"/><circle cx="9" cy="31" r="7.5" fill="none" stroke="#c5cbd4" stroke-width="2" stroke-linecap="round" stroke-linejoin="round"/><path d="M5 31l3 3l7-9" fill="none" stroke="#c5cbd4" stroke-width="2" stroke-linecap="round" stroke-linejoin="round"/><circle cx="31" cy="31" r="7.5" fill="none" stroke="#c5cbd4" stroke-width="2" stroke-linecap="round" stroke-linejoin="round"/></svg>
<div class="t" style="left:2452.0px;top:1990.3px;font-size:24.50px;line-height:24.50px;color:#868e99;transform:scaleX(1.0537);">Checkout Log</div>
<svg class="b" style="left:2673.5px;top:1986.5px;" width="42.5" height="35.0" viewBox="0 0 44 36"><path d="M14 27h-4c-9 0-11-12-1-14c1-9 12-14 19-8c6-1 11 3 11 9c6 2 5 13-3 13h-5" fill="none" stroke="#c5cbd4" stroke-width="2" stroke-linecap="round" stroke-linejoin="round"/><path d="M22 18v16M17 29l5 5l5-5" fill="none" stroke="#c5cbd4" stroke-width="2" stroke-linecap="round" stroke-linejoin="round"/></svg>
<div class="t" style="left:2729.8px;top:1990.3px;font-size:24.50px;line-height:24.50px;color:#868e99;transform:scaleX(1.0585);">Download Log</div>
<div class="b" style="left:1695.4px;top:2040.8px;width:3043.6px;height:2.0px;background:#eceef2;"></div>
<div class="b" style="left:1703.5px;top:2058.5px;width:3027.0px;height:680.5px;background:#fff;border:2px solid #eceef2;border-radius:14px;"></div>
<svg class="b" style="left:1749.5px;top:2095.5px;" width="36.2" height="46.0" viewBox="0 0 36 46"><path d="M10 2h24v42h-32v-34z" fill="none" stroke="#6b7480" stroke-width="2" stroke-linecap="round" stroke-linejoin="round"/><path d="M10 2v8h-8" fill="none" stroke="#6b7480" stroke-width="2" stroke-linecap="round" stroke-linejoin="round"/><rect x="9" y="18" width="18" height="20" fill="none" stroke="#6b7480" stroke-width="1.6" stroke-linecap="round" stroke-linejoin="round"/><path d="M12 24h12M12 28h12M12 32h12" fill="none" stroke="#6b7480" stroke-width="1.6" stroke-linecap="round" stroke-linejoin="round"/></svg>
<div class="t" style="left:1816.0px;top:2095.2px;font-size:40.50px;line-height:40.50px;color:#66788a;font-weight:700;transform:scaleX(0.9612);">27Jun2024_174543_Document_Transfer_Documentation_CVIA108.pdf</div>
<div class="t" style="left:1744.3px;top:2145.5px;font-size:24.00px;line-height:24.00px;color:#74818e;letter-spacing:0.285px;transform:scaleX(1.0600);">This is the current document uploaded for <span style="font-weight:700">Document Transfer Documentation</span>, there may be other version uploaded, check in the "Uploaded Document Versions" tab.</div>
<div class="b" style="left:1705.5px;top:2205.7px;width:3023.0px;height:2.0px;background:#eceef2;"></div>
<div class="b" style="left:3215.7px;top:2246.0px;width:2.0px;height:78.0px;background:#eceef2;"></div>
<div class="b" style="left:3712.4px;top:2246.0px;width:2.0px;height:78.0px;background:#eceef2;"></div>
<div class="b" style="left:4208.0px;top:2246.0px;width:2.0px;height:78.0px;background:#eceef2;"></div>
<div class="b" style="left:4704.7px;top:2246.0px;width:2.0px;height:78.0px;background:#eceef2;"></div>
<div class="t" style="left:2959.7px;top:2252.6px;font-size:30.00px;line-height:30.00px;color:#7f8995;">1</div>
<div class="t" style="left:2921.4px;top:2295.6px;font-size:23.50px;line-height:23.50px;color:#a3abb5;transform:scaleX(0.9000);">VERSION</div>
<svg class="b" style="left:3447.0px;top:2251.0px;" width="36.0" height="36.0" viewBox="0 0 36 36"><path d="M1 1L35 35M35 1L1 35" fill="none" stroke="#95a0ac" stroke-width="4" stroke-linecap="round" stroke-linejoin="round"/></svg>
<div class="t" style="left:3373.0px;top:2295.6px;font-size:23.50px;line-height:23.50px;color:#a3abb5;transform:scaleX(0.9395);">Is CHECKED OUT</div>
<div class="t" style="left:3952.7px;top:2252.6px;font-size:30.00px;line-height:30.00px;color:#7f8995;">0</div>
<div class="t" style="left:3892.6px;top:2295.6px;font-size:23.50px;line-height:23.50px;color:#a3abb5;transform:scaleX(0.9299);">CHECKOUTS</div>
<div class="t" style="left:4448.7px;top:2252.6px;font-size:30.00px;line-height:30.00px;color:#7f8995;">0</div>
<div class="t" style="left:4383.8px;top:2295.6px;font-size:23.50px;line-height:23.50px;color:#a3abb5;transform:scaleX(0.9554);">DOWNLOADS</div>
<div class="t" style="left:2848.0px;top:2422.0px;font-size:24.50px;line-height:24.50px;color:#333;font-weight:700;transform:scaleX(1.0103);">Options</div>
<div class="b" style="left:2600.0px;top:2461.0px;width:609.4px;height:4.0px;background:#333;"></div>
<div class="b" style="left:2600.0px;top:2465.0px;width:609.4px;height:91.0px;background:#f8f9fb;"></div>
<div class="b" style="left:2500.0px;top:2473.5px;width:670.5px;height:72.0px;background:#fff;border:2.5px solid #3a3a3a;border-radius:13px;"></div>
<div class="t" style="left:2712.4px;top:2494.6px;font-size:23.50px;line-height:23.50px;color:#555f6b;transform:scaleX(1.0504);">Complete this form:</div>
<div class="t" style="left:2933.0px;top:2494.6px;font-size:23.50px;line-height:23.50px;color:#222;font-weight:700;transform:scaleX(1.0128);">Review Document</div>
<div class="b" style="left:2600.0px;top:2555.0px;width:609.4px;height:2.0px;background:#eceef2;"></div>
<div class="b" style="left:2600.0px;top:2607.0px;width:609.4px;height:51.5px;background:#f8f9fb;border-radius:0 0 12px 0;"></div>
<div class="t" style="left:3233.2px;top:2406.3px;font-size:24.50px;line-height:24.50px;color:#74818e;letter-spacing:0.238px;transform:scaleX(1.0600);">Download a copy of this document. Downloading means:</div>
<div class="b" style="left:3267.5px;top:2481.5px;width:7.0px;height:7.0px;background:#7d8793;border-radius:4px;"></div>
<div class="b" style="left:3267.5px;top:2517.1px;width:7.0px;height:7.0px;background:#7d8793;border-radius:4px;"></div>
<div class="t" style="left:3295.4px;top:2472.3px;font-size:24.50px;line-height:24.50px;color:#74818e;letter-spacing:0.248px;transform:scaleX(1.0600);">You get a copy of this document.</div>
<div class="t" style="left:3295.4px;top:2507.9px;font-size:24.50px;line-height:24.50px;color:#74818e;letter-spacing:0.342px;transform:scaleX(1.0600);">You cannot upload.</div>
<div class="b" style="left:3233.2px;top:2570.7px;width:1358.2px;height:78.7px;background:#fff;border:3px solid #28476a;border-radius:16px;"></div>
<svg class="b" style="left:3265.0px;top:2593.5px;" width="37.0" height="32.0" viewBox="0 0 40 34"><path d="M10 26c-10 0-12-12-2-14c1-9 13-14 20-7c7-1 11 5 10 10c4 3 3 11-4 11z" fill="#243c5e"/><path d="M20 18v13M16 28l4 4l4-4" fill="none" stroke="#fff" stroke-width="2"/><path d="M20 24v9M17 30l3 3l3-3" fill="none" stroke="#243c5e" stroke-width="1.6"/></svg>
<div class="t" style="left:3324.7px;top:2592.1px;font-size:31.00px;line-height:31.00px;color:#243c5e;transform:scaleX(1.0484);">Download <span style="font-weight:700">27Jun2024_174543_Document_Transfer_Documentation_CVIA108.pdf</span></div>
<div class="b" style="left:4741.0px;top:2713.0px;width:59.0px;height:59.0px;background:#243c5e;border-radius:30px;"></div>
<div class="b" style="left:1613.0px;top:1075.0px;width:3144.0px;height:1673.0px;border:3px solid #d6d7da;"></div>
</div></div>
<div class="b" style="left:297px;top:2207.5px;width:2452.2px;height:1045.5px;overflow:hidden;"><div class="b" style="left:-297px;top:-2207.5px;width:4964px;height:3509px;">
<div class="b" style="left:297.0px;top:2207.5px;width:2452.2px;height:1045.5px;background:#eef0f6;border:3px solid #d5d6da;"></div>
<div class="b" style="left:300.0px;top:2215.0px;width:2418.5px;height:1035.0px;background:#fff;border-radius:0 13px 0 0;"></div>
<svg class="b" style="left:320.7px;top:2249.6px;" width="33.9" height="45.4" viewBox="0 0 34 46"><rect x="1.500" y="1.500" width="31" height="43" fill="none" stroke="#6b7480" stroke-width="2" stroke-linecap="round" stroke-linejoin="round"/><rect x="9" y="8" width="16" height="14" fill="none" stroke="#6b7480" stroke-width="2" stroke-linecap="round" stroke-linejoin="round"/><path d="M10 29h14M12 33h10" fill="none" stroke="#6b7480" stroke-width="2" stroke-linecap="round" stroke-linejoin="round"/></svg>
<div class="t" style="left:386.5px;top:2250.2px;font-size:37.00px;line-height:37.00px;color:#74818e;transform:scaleX(1.0032);">Project: <span style="font-weight:700;color:#1b9af0;text-decoration:underline">Demo Study</span></div>
<div class="b" style="left:300.0px;top:2324.6px;width:2418.0px;height:2.0px;background:#eceef2;"></div>
<svg class="b" style="left:314.0px;top:2362.8px;" width="50.7" height="49.5" viewBox="0 0 50 48"><path d="M7 46h30a5 5 0 0 0 5-5v-25a5 5 0 0 0-5-5h-16l-3-5h-11a5 5 0 0 0-5 5v31a5 5 0 0 0 5 5z" fill="none" stroke="#6b7480" stroke-width="2" stroke-linecap="round" stroke-linejoin="round"/><path d="M10 6c0-3 2-4.500 4-4.500h10l3 5h14c3 0 6 2 6 6v24c0 3-2 5-4 5" fill="none" stroke="#6b7480" stroke-width="1.6" stroke-linecap="round" stroke-linejoin="round"/></svg>
<div class="t" style="left:386.4px;top:2367.9px;font-size:32.50px;line-height:32.50px;color:#74818e;transform:scaleX(0.9520);">Folders: <span style="font-weight:700;color:#5a6673">Demo_eTMF</span></div>
<div class="b" style="left:300.0px;top:2448.6px;width:2418.0px;height:2.0px;background:#eceef2;"></div>
<div class="t" style="left:315.2px;top:2484.5px;font-size:24.50px;line-height:24.50px;color:#74818e;transform:scaleX(1.0106);">Legend:</div>
<svg class="b" style="left:328.3px;top:2552.0px;" width="39.0" height="39.0" viewBox="0 0 39 39"><polygon points="19.50,1.00 24.07,13.21 37.09,13.78 26.89,21.90 30.37,34.47 19.50,27.27 8.63,34.47 12.11,21.90 1.91,13.78 14.93,13.21" fill="#e24a3b" stroke="#e24a3b" stroke-width="1.5" stroke-linejoin="round"/></svg>
<svg class="b" style="left:332.0px;top:2605.5px;" width="32.0" height="32.0" viewBox="0 0 32 32"><path d="M1 1L31 31M31 1L1 31" fill="none" stroke="#e24a3b" stroke-width="2.6" stroke-linecap="round" stroke-linejoin="round"/></svg>
<svg class="b" style="left:331.0px;top:2654.0px;" width="34.0" height="38.0" viewBox="0 0 34 38"><path d="M21 4.500a4.300 4.300 0 1 0 0.010 0z M17 13c-4 0-8 2-11 5l2.500 3c2-2 4-3 6-3.200l-4 8l-8 5l2 3.500l10-5l2.500-4l5 4l-2 7l4 1l3-9l-5.500-6l2.500-5l3 3l5-2l-1-3.500l-3 1l-4-5c-1.500-2-4-2.800-6-2.800z" fill="none" stroke="#aab1bb" stroke-width="1.6" stroke-linecap="round" stroke-linejoin="round"/></svg>
<svg class="b" style="left:331.0px;top:2705.0px;" width="34.0" height="38.0" viewBox="0 0 34 38"><path d="M21 4.500a4.300 4.300 0 1 0 0.010 0z M17 13c-4 0-8 2-11 5l2.500 3c2-2 4-3 6-3.200l-4 8l-8 5l2 3.500l10-5l2.500-4l5 4l-2 7l4 1l3-9l-5.500-6l2.500-5l3 3l5-2l-1-3.500l-3 1l-4-5c-1.500-2-4-2.800-6-2.800z" fill="#f7941d" stroke="#f7941d" stroke-width="1" stroke-linejoin="round"/></svg>
<div class="t" style="left:386.4px;top:2558.5px;font-size:25.00px;line-height:25.00px;color:#74818e;">Required</div>
<div class="t" style="left:386.4px;top:2609.4px;font-size:25.00px;line-height:25.00px;color:#74818e;transform:scaleX(1.0497);">Missing document</div>
<div class="t" style="left:386.4px;top:2660.2px;font-size:25.00px;line-height:25.00px;color:#74818e;transform:scaleX(1.0523);">Available for checkout</div>
<div class="t" style="left:386.4px;top:2711.0px;font-size:25.00px;line-height:25.00px;color:#74818e;transform:scaleX(1.0471);">Already checked out</div>
<svg class="b" style="left:713.8px;top:2486.0px;" width="30.5" height="30.7" viewBox="0 0 30 30"><path d="M2 16l13-13l5 5v-4h4v8l4 4h-3v12h-7v-8h-6v8h-7v-12z" fill="none" stroke="#4aa6ee" stroke-width="1.8" stroke-linecap="round" stroke-linejoin="round"/></svg>
<svg class="b" style="left:762.2px;top:2492.5px;" width="8.5" height="15.0" viewBox="0 0 8.5 15"><path d="M1 1L7.5 7.5L1 14" fill="none" stroke="#6b7480" stroke-width="2.2" stroke-linecap="round" stroke-linejoin="round"/></svg>
<div class="t" style="left:789.7px;top:2483.1px;font-size:32.50px;line-height:32.50px;color:#1b9af0;font-weight:700;transform:scaleX(0.9822);">01 - Trial Management</div>
<svg class="b" style="left:1142.2px;top:2492.5px;" width="8.5" height="15.0" viewBox="0 0 8.5 15"><path d="M1 1L7.5 7.5L1 14" fill="none" stroke="#6b7480" stroke-width="2.2" stroke-linecap="round" stroke-linejoin="round"/></svg>
<div class="t" style="left:1170.0px;top:2483.1px;font-size:32.50px;line-height:32.50px;color:#1b9af0;font-weight:700;transform:scaleX(0.9258);">1.01 - Trial Oversight</div>
<svg class="b" style="left:1486.2px;top:2492.5px;" width="8.5" height="15.0" viewBox="0 0 8.5 15"><path d="M1 1L7.5 7.5L1 14" fill="none" stroke="#6b7480" stroke-width="2.2" stroke-linecap="round" stroke-linejoin="round"/></svg>
<div class="t" style="left:1515.0px;top:2484.4px;font-size:31.00px;line-height:31.00px;color:#7b8794;transform:scaleX(0.9446);">01.01.01 - Trial Master File Plan</div>
<div class="t" style="left:795.0px;top:2579.1px;font-size:27.00px;line-height:27.00px;color:#262626;font-weight:700;transform:scaleX(0.9143);">Title</div>
<div class="t" style="left:1475.9px;top:2580.4px;font-size:25.50px;line-height:25.50px;color:#262626;font-weight:700;transform:scaleX(0.9627);">Required</div>
<div class="t" style="left:1674.4px;top:2580.4px;font-size:25.50px;line-height:25.50px;color:#262626;font-weight:700;transform:scaleX(0.9865);">Uploaded</div>
<div class="t" style="left:1859.4px;top:2580.4px;font-size:25.50px;line-height:25.50px;color:#262626;font-weight:700;transform:scaleX(0.9828);">Checked out</div>
<div class="t" style="left:2109.4px;top:2580.4px;font-size:25.50px;line-height:25.50px;color:#262626;font-weight:700;transform:scaleX(0.9810);">Sub Items / Documents</div>
<div class="t" style="left:2541.0px;top:2580.4px;font-size:25.50px;line-height:25.50px;color:#262626;font-weight:700;transform:scaleX(0.9892);">Type</div>
<div class="b" style="left:714.5px;top:2635.3px;width:1964.8px;height:4.1px;background:#333;"></div>
<div class="b" style="left:714.5px;top:2639.4px;width:1964.8px;height:92.8px;background:#f9dcda;"></div>
<svg class="b" style="left:732.8px;top:2661.0px;" width="28.4" height="36.0" viewBox="0 0 30 38"><path d="M9 1.500h17a2.500 2.500 0 0 1 2.500 2.500v30a2.500 2.500 0 0 1-2.500 2.500h-22a2.500 2.500 0 0 1-2.500-2.500v-23.500z M9 1.500v7.500h-7.500" fill="none" stroke="#555" stroke-width="1.8" stroke-linecap="round" stroke-linejoin="round"/></svg>
<div class="t" style="left:808.0px;top:2671.0px;font-size:26.00px;line-height:26.00px;color:#1b9af0;font-weight:700;transform:scaleX(0.9728);">Document Transfer Documentation</div>
<svg class="b" style="left:1515.7px;top:2667.0px;" width="26.0" height="26.0" viewBox="0 0 26 26"><polygon points="13.00,1.00 15.96,8.92 24.41,9.29 17.79,14.56 20.05,22.71 13.00,18.04 5.95,22.71 8.21,14.56 1.59,9.29 10.04,8.92" fill="#e24a3b" stroke="#e24a3b" stroke-width="1.5" stroke-linejoin="round"/></svg>
<svg class="b" style="left:1719.8px;top:2669.0px;" width="23.0" height="23.0" viewBox="0 0 23 23"><path d="M1 1L22 22M22 1L1 22" fill="none" stroke="#e24a3b" stroke-width="2.2" stroke-linecap="round" stroke-linejoin="round"/></svg>
<svg class="b" style="left:1917.5px;top:2661.5px;" width="34.0" height="38.0" viewBox="0 0 34 38"><path d="M21 4.500a4.300 4.300 0 1 0 0.010 0z M17 13c-4 0-8 2-11 5l2.500 3c2-2 4-3 6-3.200l-4 8l-8 5l2 3.500l10-5l2.500-4l5 4l-2 7l4 1l3-9l-5.500-6l2.500-5l3 3l5-2l-1-3.500l-3 1l-4-5c-1.500-2-4-2.800-6-2.800z" fill="none" stroke="#aab1bb" stroke-width="1.6" stroke-linecap="round" stroke-linejoin="round"/></svg>
<div class="b" style="left:2106.0px;top:2661.2px;width:282.6px;height:38.6px;background:#e2503f;border-radius:15px;"></div>
<div class="t" style="left:2122.3px;top:2670.1px;font-size:24.50px;line-height:24.50px;color:#fff;font-weight:700;transform:scaleX(0.9349);">MISSING DOCUMENTS</div>
<div class="t" style="left:2504.6px;top:2667.7px;font-size:23.50px;line-height:23.50px;color:#4d4d4d;transform:scaleX(0.9221);">WORKFLOW</div>
<svg class="b" style="left:732.8px;top:2755.0px;" width="28.4" height="36.0" viewBox="0 0 30 38"><path d="M9 1.500h17a2.500 2.500 0 0 1 2.500 2.500v30a2.500 2.500 0 0 1-2.500 2.500h-22a2.500 2.500 0 0 1-2.500-2.500v-23.500z M9 1.500v7.500h-7.500" fill="none" stroke="#555" stroke-width="1.8" stroke-linecap="round" stroke-linejoin="round"/></svg>
<div class="t" style="left:808.0px;top:2765.0px;font-size:26.00px;line-height:26.00px;color:#1b9af0;font-weight:700;transform:scaleX(0.9381);">Evidence of Quality Review</div>
<svg class="b" style="left:1515.7px;top:2761.0px;" width="26.0" height="26.0" viewBox="0 0 26 26"><polygon points="13.00,1.00 15.96,8.92 24.41,9.29 17.79,14.56 20.05,22.71 13.00,18.04 5.95,22.71 8.21,14.56 1.59,9.29 10.04,8.92" fill="#e24a3b" stroke="#e24a3b" stroke-width="1.5" stroke-linejoin="round"/></svg>
<svg class="b" style="left:1719.3px;top:2762.5px;" width="24.0" height="24.0" viewBox="0 0 24 24"><circle cx="12" cy="12" r="12" fill="#8dc63f"/><path d="M7.44 12.6l3.36 3.36l6 -7.2" fill="none" stroke="#fff" stroke-width="1.6" stroke-linecap="round" stroke-linejoin="round"/></svg>
<svg class="b" style="left:1917.5px;top:2755.5px;" width="34.0" height="38.0" viewBox="0 0 34 38"><path d="M21 4.500a4.300 4.300 0 1 0 0.010 0z M17 13c-4 0-8 2-11 5l2.500 3c2-2 4-3 6-3.200l-4 8l-8 5l2 3.500l10-5l2.500-4l5 4l-2 7l4 1l3-9l-5.500-6l2.500-5l3 3l5-2l-1-3.500l-3 1l-4-5c-1.500-2-4-2.800-6-2.800z" fill="none" stroke="#aab1bb" stroke-width="1.6" stroke-linecap="round" stroke-linejoin="round"/></svg>
<div class="b" style="left:2223.3px;top:2756.5px;width:48.1px;height:48.8px;background:#12a4f2;border-radius:11px;"></div>
<div class="t" style="left:2239.0px;top:2766.6px;font-size:30.00px;line-height:30.00px;color:#fff;font-weight:700;">1</div>
<div class="b" style="left:714.5px;top:2829.8px;width:1964.8px;height:95.6px;background:#f9dcda;"></div>
<div class="b" style="left:714.5px;top:2924.4px;width:1964.8px;height:2.0px;background:#f0c9c6;"></div>
<svg class="b" style="left:732.8px;top:2852.7px;" width="28.4" height="36.0" viewBox="0 0 30 38"><path d="M9 1.500h17a2.500 2.500 0 0 1 2.500 2.500v30a2.500 2.500 0 0 1-2.500 2.500h-22a2.500 2.500 0 0 1-2.500-2.500v-23.500z M9 1.500v7.500h-7.500" fill="none" stroke="#555" stroke-width="1.8" stroke-linecap="round" stroke-linejoin="round"/></svg>
<div class="t" style="left:808.0px;top:2862.7px;font-size:26.00px;line-height:26.00px;color:#1b9af0;font-weight:700;transform:scaleX(0.9015);">Request to Lock TMF</div>
<svg class="b" style="left:1515.7px;top:2858.7px;" width="26.0" height="26.0" viewBox="0 0 26 26"><polygon points="13.00,1.00 15.96,8.92 24.41,9.29 17.79,14.56 20.05,22.71 13.00,18.04 5.95,22.71 8.21,14.56 1.59,9.29 10.04,8.92" fill="#e24a3b" stroke="#e24a3b" stroke-width="1.5" stroke-linejoin="round"/></svg>
<svg class="b" style="left:1719.8px;top:2860.7px;" width="23.0" height="23.0" viewBox="0 0 23 23"><path d="M1 1L22 22M22 1L1 22" fill="none" stroke="#e24a3b" stroke-width="2.2" stroke-linecap="round" stroke-linejoin="round"/></svg>
<svg class="b" style="left:1917.5px;top:2853.2px;" width="34.0" height="38.0" viewBox="0 0 34 38"><path d="M21 4.500a4.300 4.300 0 1 0 0.010 0z M17 13c-4 0-8 2-11 5l2.500 3c2-2 4-3 6-3.200l-4 8l-8 5l2 3.500l10-5l2.500-4l5 4l-2 7l4 1l3-9l-5.500-6l2.500-5l3 3l5-2l-1-3.500l-3 1l-4-5c-1.500-2-4-2.800-6-2.800z" fill="none" stroke="#aab1bb" stroke-width="1.6" stroke-linecap="round" stroke-linejoin="round"/></svg>
<div class="b" style="left:2106.0px;top:2852.9px;width:282.6px;height:38.6px;background:#e2503f;border-radius:15px;"></div>
<div class="t" style="left:2122.3px;top:2861.8px;font-size:24.50px;line-height:24.50px;color:#fff;font-weight:700;transform:scaleX(0.9349);">MISSING DOCUMENTS</div>
<div class="b" style="left:714.5px;top:2925.4px;width:1964.8px;height:94.9px;background:#f9dcda;"></div>
<div class="b" style="left:714.5px;top:3019.3px;width:1964.8px;height:2.0px;background:#f0c9c6;"></div>
<svg class="b" style="left:732.8px;top:2948.3px;" width="28.4" height="36.0" viewBox="0 0 30 38"><path d="M9 1.500h17a2.500 2.500 0 0 1 2.500 2.500v30a2.500 2.500 0 0 1-2.500 2.500h-22a2.500 2.500 0 0 1-2.500-2.500v-23.500z M9 1.500v7.500h-7.500" fill="none" stroke="#555" stroke-width="1.8" stroke-linecap="round" stroke-linejoin="round"/></svg>
<div class="t" style="left:808.0px;top:2958.3px;font-size:26.00px;line-height:26.00px;color:#1b9af0;font-weight:700;transform:scaleX(0.9406);">Trial Master File Plan</div>
<svg class="b" style="left:1515.7px;top:2954.3px;" width="26.0" height="26.0" viewBox="0 0 26 26"><polygon points="13.00,1.00 15.96,8.92 24.41,9.29 17.79,14.56 20.05,22.71 13.00,18.04 5.95,22.71 8.21,14.56 1.59,9.29 10.04,8.92" fill="#e24a3b" stroke="#e24a3b" stroke-width="1.5" stroke-linejoin="round"/></svg>
<svg class="b" style="left:1719.8px;top:2956.3px;" width="23.0" height="23.0" viewBox="0 0 23 23"><path d="M1 1L22 22M22 1L1 22" fill="none" stroke="#e24a3b" stroke-width="2.2" stroke-linecap="round" stroke-linejoin="round"/></svg>
<svg class="b" style="left:1917.5px;top:2948.8px;" width="34.0" height="38.0" viewBox="0 0 34 38"><path d="M21 4.500a4.300 4.300 0 1 0 0.010 0z M17 13c-4 0-8 2-11 5l2.500 3c2-2 4-3 6-3.200l-4 8l-8 5l2 3.500l10-5l2.500-4l5 4l-2 7l4 1l3-9l-5.500-6l2.500-5l3 3l5-2l-1-3.500l-3 1l-4-5c-1.500-2-4-2.800-6-2.800z" fill="none" stroke="#aab1bb" stroke-width="1.6" stroke-linecap="round" stroke-linejoin="round"/></svg>
<div class="b" style="left:2106.0px;top:2948.5px;width:282.6px;height:38.6px;background:#e2503f;border-radius:15px;"></div>
<div class="t" style="left:2122.3px;top:2957.4px;font-size:24.50px;line-height:24.50px;color:#fff;font-weight:700;transform:scaleX(0.9349);">MISSING DOCUMENTS</div>
<div class="t" style="left:2504.6px;top:2955.0px;font-size:23.50px;line-height:23.50px;color:#4d4d4d;transform:scaleX(0.9221);">WORKFLOW</div>
<div class="b" style="left:714.5px;top:3020.3px;width:1964.8px;height:95.6px;background:#f9dcda;"></div>
<div class="b" style="left:714.5px;top:3114.9px;width:1964.8px;height:2.0px;background:#f0c9c6;"></div>
<svg class="b" style="left:732.8px;top:3042.5px;" width="28.4" height="36.0" viewBox="0 0 30 38"><path d="M9 1.500h17a2.500 2.500 0 0 1 2.500 2.500v30a2.500 2.500 0 0 1-2.500 2.500h-22a2.500 2.500 0 0 1-2.500-2.500v-23.500z M9 1.500v7.500h-7.500" fill="none" stroke="#555" stroke-width="1.8" stroke-linecap="round" stroke-linejoin="round"/></svg>
<div class="t" style="left:808.0px;top:3052.5px;font-size:26.00px;line-height:26.00px;color:#1b9af0;font-weight:700;transform:scaleX(0.9461);">Trial Master File Index</div>
<svg class="b" style="left:1515.7px;top:3048.5px;" width="26.0" height="26.0" viewBox="0 0 26 26"><polygon points="13.00,1.00 15.96,8.92 24.41,9.29 17.79,14.56 20.05,22.71 13.00,18.04 5.95,22.71 8.21,14.56 1.59,9.29 10.04,8.92" fill="#e24a3b" stroke="#e24a3b" stroke-width="1.5" stroke-linejoin="round"/></svg>
<svg class="b" style="left:1719.8px;top:3050.5px;" width="23.0" height="23.0" viewBox="0 0 23 23"><path d="M1 1L22 22M22 1L1 22" fill="none" stroke="#e24a3b" stroke-width="2.2" stroke-linecap="round" stroke-linejoin="round"/></svg>
<svg class="b" style="left:1917.5px;top:3043.0px;" width="34.0" height="38.0" viewBox="0 0 34 38"><path d="M21 4.500a4.300 4.300 0 1 0 0.010 0z M17 13c-4 0-8 2-11 5l2.500 3c2-2 4-3 6-3.200l-4 8l-8 5l2 3.500l10-5l2.500-4l5 4l-2 7l4 1l3-9l-5.500-6l2.500-5l3 3l5-2l-1-3.500l-3 1l-4-5c-1.500-2-4-2.800-6-2.800z" fill="none" stroke="#aab1bb" stroke-width="1.6" stroke-linecap="round" stroke-linejoin="round"/></svg>
<div class="b" style="left:2106.0px;top:3042.7px;width:282.6px;height:38.6px;background:#e2503f;border-radius:15px;"></div>
<div class="t" style="left:2122.3px;top:3051.6px;font-size:24.50px;line-height:24.50px;color:#fff;font-weight:700;transform:scaleX(0.9349);">MISSING DOCUMENTS</div>
<div class="b" style="left:714.5px;top:3115.9px;width:1964.8px;height:92.8px;background:#f9dcda;border-radius:0 0 14px 14px;"></div>
<svg class="b" style="left:732.8px;top:3138.0px;" width="28.4" height="36.0" viewBox="0 0 30 38"><path d="M9 1.500h17a2.500 2.500 0 0 1 2.500 2.500v30a2.500 2.500 0 0 1-2.500 2.500h-22a2.500 2.500 0 0 1-2.500-2.500v-23.500z M9 1.500v7.500h-7.500" fill="none" stroke="#555" stroke-width="1.8" stroke-linecap="round" stroke-linejoin="round"/></svg>
<div class="t" style="left:808.0px;top:3148.0px;font-size:26.00px;line-height:26.00px;color:#1b9af0;font-weight:700;transform:scaleX(0.9404);">Trial Master File Report</div>
<svg class="b" style="left:1515.7px;top:3144.0px;" width="26.0" height="26.0" viewBox="0 0 26 26"><polygon points="13.00,1.00 15.96,8.92 24.41,9.29 17.79,14.56 20.05,22.71 13.00,18.04 5.95,22.71 8.21,14.56 1.59,9.29 10.04,8.92" fill="#e24a3b" stroke="#e24a3b" stroke-width="1.5" stroke-linejoin="round"/></svg>
<svg class="b" style="left:1719.8px;top:3146.0px;" width="23.0" height="23.0" viewBox="0 0 23 23"><path d="M1 1L22 22M22 1L1 22" fill="none" stroke="#e24a3b" stroke-width="2.2" stroke-linecap="round" stroke-linejoin="round"/></svg>
<svg class="b" style="left:1917.5px;top:3138.5px;" width="34.0" height="38.0" viewBox="0 0 34 38"><path d="M21 4.500a4.300 4.300 0 1 0 0.010 0z M17 13c-4 0-8 2-11 5l2.500 3c2-2 4-3 6-3.200l-4 8l-8 5l2 3.500l10-5l2.500-4l5 4l-2 7l4 1l3-9l-5.500-6l2.500-5l3 3l5-2l-1-3.500l-3 1l-4-5c-1.500-2-4-2.800-6-2.800z" fill="none" stroke="#aab1bb" stroke-width="1.6" stroke-linecap="round" stroke-linejoin="round"/></svg>
<div class="b" style="left:2106.0px;top:3138.2px;width:282.6px;height:38.6px;background:#e2503f;border-radius:15px;"></div>
<div class="t" style="left:2122.3px;top:3147.1px;font-size:24.50px;line-height:24.50px;color:#fff;font-weight:700;transform:scaleX(0.9349);">MISSING DOCUMENTS</div>
<div class="b" style="left:714.5px;top:2731.2px;width:1964.8px;height:2.0px;background:#f0c9c6;"></div>
</div></div>
</body></html>
